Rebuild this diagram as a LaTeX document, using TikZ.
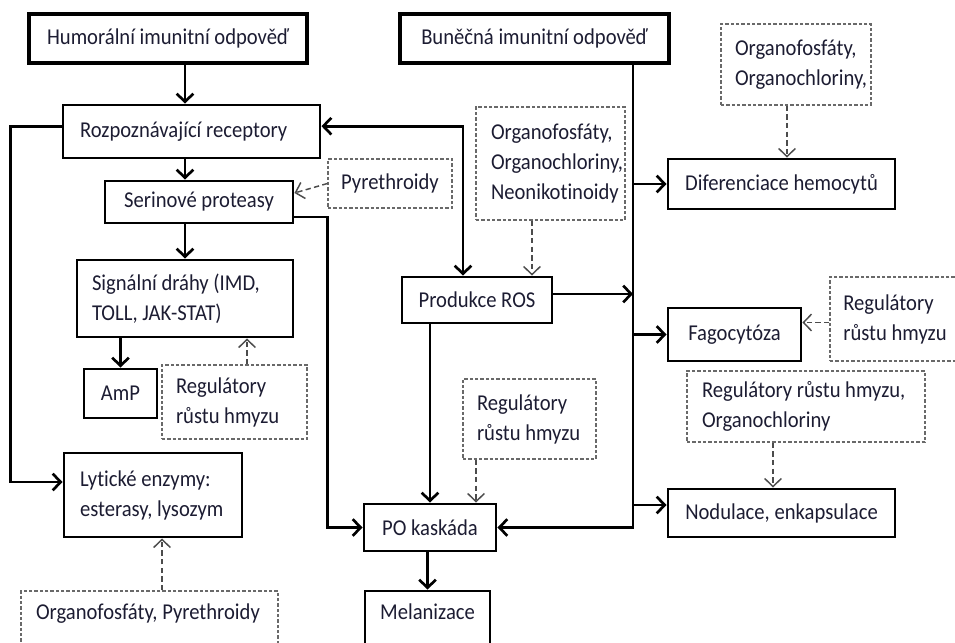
\documentclass[tikz,border=0pt]{standalone}
\usepackage{fontspec}
\setmainfont{Carlito}[FakeStretch=0.91,Ligatures=NoCommon]
\usepackage{xcolor}
\usepackage{tikz}
\usetikzlibrary{arrows.meta,positioning,calc}
\definecolor{txt}{RGB}{28,28,50}
\definecolor{dashgray}{RGB}{105,105,105}
\hyphenpenalty=10000
\exhyphenpenalty=10000

\begin{document}
\begin{tikzpicture}[x=0.75pt,y=-0.75pt,>={Straight Barb[length=6pt,width=12.5pt]},
  box/.style={draw,line width=2.2pt,text=txt,inner sep=0pt,font=\fontsize{17}{22.5}\selectfont},
  mainbox/.style={box,line width=3pt},
  inbox/.style={draw=dashgray,line width=0.9pt,dash pattern=on 2.5pt off 1.5pt,text=txt,inner sep=0pt,font=\fontsize{17}{22.5}\selectfont},
  conn/.style={line width=2pt,->},
  dconn/.style={draw=black!70,line width=1.1pt,dash pattern=on 4pt off 2.5pt,->}]
  \useasboundingbox (0,0) rectangle (955,642);
  \clip (0,0) rectangle (955,642);
  % the two responses
  \node[mainbox,minimum width=208.5pt,minimum height=36.75pt] (humoral) at (168,38.5) {Humorální imunitní odpověď};
  \node[mainbox,minimum width=201.75pt,minimum height=36.75pt] (bunecna) at (534.5,38.5) {Buněčná imunitní odpověď};
  % humoral side
  \node[box,minimum height=39.75pt,text width=167.25pt,inner xsep=12.75pt,align=flush left] (rozp) at (191.5,131.5) {Rozpoznávající receptory};
  \node[box,minimum width=141pt,minimum height=31.5pt] (serin) at (199,202) {Serinové proteasy};
  \node[box,minimum height=57.75pt,text width=139.5pt,inner xsep=11.25pt,align=flush left] (signal) at (185,298.5) {Signální dráhy (IMD,\\TOLL, JAK-STAT)};
  \node[box,minimum width=54.75pt,minimum height=36.75pt] (amp) at (120.5,393.5) {AmP};
  \node[box,minimum height=63pt,text width=109.5pt,inner xsep=12pt,align=flush left] (lytic) at (153,495) {Lytické enzymy:\\esterasy, lysozym};
  % middle column
  \node[box,minimum width=112.5pt,minimum height=34.5pt] (ros) at (477,300) {Produkce ROS};
  \node[box,minimum width=99pt,minimum height=35.25pt] (po) at (430,527.5) {PO kaskáda};
  \node[box,minimum width=93.75pt,text height=21pt,text depth=30pt,anchor=base] (melan) at (427.5,619) {Melanizace};
  % cellular side
  \node[box,minimum width=170.25pt,minimum height=37.5pt] (difer) at (781.5,184) {Diferenciace hemocytů};
  \node[box,minimum width=99.75pt,minimum height=39.75pt] (fago) at (734.5,334.5) {Fagocytóza};
  \node[box,minimum width=170.25pt,minimum height=36pt] (nodul) at (781.5,513) {Nodulace, enkapsulace};
  % insecticides (dashed)
  \node[inbox,minimum width=93pt,minimum height=36.75pt] (pyr) at (390,183.5) {Pyrethroidy};
  \node[inbox,minimum height=84.75pt,text width=89.25pt,inner xsep=11.25pt,align=flush left] (ins1) at (550.5,163.5) {Organofosfáty,\\Organochloriny,\\Neonikotinoidy};
  \node[inbox,minimum height=60.75pt,text width=91.5pt,inner xsep=10.5pt,align=flush left] (ins2) at (796,64.5) {Organofosfáty,\\Organochloriny,};
  \node[inbox,minimum height=55.5pt,text width=87.75pt,inner xsep=10.5pt,align=flush left] (reg1) at (234.5,402) {Regulátory\\růstu hmyzu};
  \node[inbox,minimum height=60pt,text width=78.75pt,inner xsep=10.5pt,align=flush left] (reg2) at (529.5,419) {Regulátory\\růstu hmyzu};
  \node[inbox,minimum height=63pt,text width=81.25pt,inner xsep=10pt,align=flush left] (reg3) at (897.5,319) {Regulátory\\růstu hmyzu};
  \node[inbox,minimum height=53.25pt,text width=156pt,inner xsep=11.25pt,align=flush left] (reg4) at (806,406.5) {Regulátory růstu hmyzu,\\Organochloriny};
  \node[inbox,text width=170.25pt,inner xsep=11.25pt,align=flush left,text height=21pt,text depth=30pt,anchor=base] (opyr) at (149.5,619) {Organofosfáty, Pyrethroidy};
  % humoral arrows
  \draw[conn] (humoral.south -| signal.north) -- (rozp.north -| signal.north);
  \draw[conn] (rozp.south -| signal.north) -- (serin.north -| signal.north);
  \draw[conn] (serin.south -| signal.north) -- (signal.north);
  \draw[conn] (signal.south -| amp.north) -- (amp.north);
  \draw[conn] ([yshift=4pt]rozp.west) -- ++(-51,0) |- ([yshift=9.75pt]lytic.west);
  \draw[conn] ([yshift=-11.25pt]serin.east) -| ([xshift=-26.25pt]po.west) -- (po.west);
  \draw[conn,<->] ([yshift=4pt]rozp.east) -| ([xshift=-10.5pt]ros.north);
  % cellular trunk
  \coordinate (trunk) at ([xshift=73.9pt]bunecna.south);
  \coordinate (rosout) at ([yshift=4.5pt]ros.east);
  \coordinate (nodin) at ([yshift=6pt]nodul.west);
  \draw[conn] (trunk) |- (po.east);
  \draw[conn] (trunk |- difer.west) -- (difer.west);
  \draw[conn] (trunk |- fago.west) -- (fago.west);
  \draw[conn] (trunk |- nodin) -- (nodin);
  \draw[conn] (rosout) -- (rosout -| trunk);
  \draw[conn] (ros.south -| po.north) -- (po.north);
  \draw[conn] (po.south -| melan.north) -- (melan.north);
  % dashed influences
  \coordinate (reg1up) at ([xshift=9.4pt]reg1.north);
  \coordinate (opyrup) at ([xshift=9.4pt]opyr.north);
  \coordinate (ins1dn) at ([xshift=-13.9pt]ins1.south);
  \coordinate (reg2dn) at ([xshift=-40.1pt]reg2.south);
  \coordinate (ins2dn) at ([xshift=-6.75pt]ins2.south);
  \coordinate (fagoin) at ([yshift=9pt]fago.east);
  \coordinate (reg4dn) at ([xshift=-24.75pt]reg4.south);
  \draw[dconn] (pyr.west) -- ([yshift=6.75pt]serin.east);
  \draw[dconn] (reg1up) -- (reg1up |- signal.south);
  \draw[dconn] (opyrup) -- (opyrup |- lytic.south);
  \draw[dconn] (ins1dn) -- (ins1dn |- ros.north);
  \draw[dconn] (reg2dn) -- (reg2dn |- po.north);
  \draw[dconn] (ins2dn) -- (ins2dn |- difer.north);
  \draw[dconn] (fagoin -| reg3.west) -- (fagoin);
  \draw[dconn] (reg4dn) -- (reg4dn |- nodul.north);
\end{tikzpicture}
\end{document}
